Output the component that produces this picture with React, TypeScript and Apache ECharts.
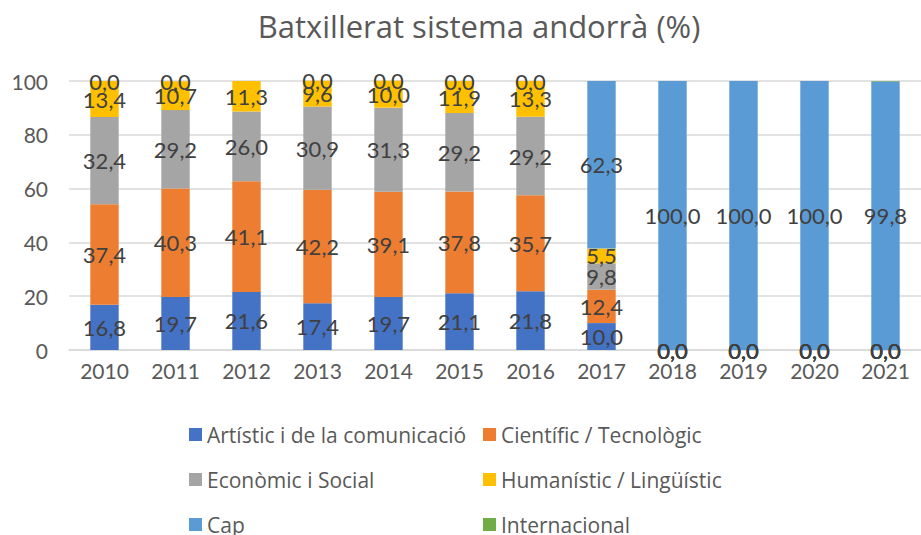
import React, { useEffect, useRef } from "react";
import * as echarts from "echarts";

const categories = ["2010", "2011", "2012", "2013", "2014", "2015", "2016", "2017", "2018", "2019", "2020", "2021"];
const artistic = [16.8, 19.7, 21.6, 17.4, 19.7, 21.1, 21.8, 10.0, 0.0, 0.0, 0.0, 0.0];
const cientific = [37.4, 40.3, 41.1, 42.2, 39.1, 37.8, 35.7, 12.4, 0.0, 0.0, 0.0, 0.0];
const economic = [32.4, 29.2, 26.0, 30.9, 31.3, 29.2, 29.2, 9.8, 0.0, 0.0, 0.0, 0.0];
const humanistic = [13.4, 10.7, 11.3, 9.6, 10.0, 11.9, 13.3, 5.5, 0.0, 0.0, 0.0, 0.0];
const cap = [0.0, 0.0, null, 0.0, 0.0, 0.0, 0.0, 62.3, 100.0, 100.0, 100.0, 99.8];
const internacional = [null, null, null, null, null, null, null, null, null, null, null, 0.2];
const yTicks = [0, 20, 40, 60, 80, 100];

const seriesNames = [
  "Artístic i de la comunicació",
  "Científic / Tecnològic",
  "Econòmic i Social",
  "Humanístic / Lingüístic",
  "Cap",
  "Internacional",
];
const colors = ["#4472C4", "#ED7D31", "#A5A5A5", "#FFC000", "#5B9BD5", "#70AD47"];

const FONT = "Lato, 'Open Sans', sans-serif";
const FONT2 = "'Open Sans', Lato, sans-serif";

export default function App() {
  const ref = useRef<HTMLDivElement>(null);
  useEffect(() => {
    if (!ref.current) return;
    const chart = echarts.init(ref.current, null, { renderer: "svg" });
    const datasets = [artistic, cientific, economic, humanistic, cap, internacional];
    const series = datasets.map((d, i) => ({
      name: seriesNames[i],
      type: "bar" as const,
      stack: "total",
      data: d,
      barWidth: "40%",
      clip: false,
      itemStyle: { color: colors[i] },
      label: {
        show: i !== 5,
        position: "inside" as const,
        color: "#404040",
        fontFamily: FONT,
        fontSize: 22,
        formatter: (p: any) => (p.value == null ? "" : Number(p.value).toFixed(1).replace(".", ",")),
      },
    }));
    const legendText = { color: "#595959", fontSize: 21, fontFamily: FONT2 };
    chart.setOption({
      animation: false,
      textStyle: { fontFamily: FONT },
      title: {
        text: "Batxillerat sistema andorrà (%)",
        left: 474,
        textAlign: "center",
        top: 5,
        textStyle: { fontFamily: FONT2, fontSize: 31, fontWeight: "normal", color: "#595959" },
      },
      grid: { left: 69, right: -3, top: 81, bottom: 185, containLabel: false },
      xAxis: {
        type: "category",
        data: categories,
        axisLine: { lineStyle: { color: "#D9D9D9", width: 1.5 } },
        axisTick: { show: false },
        axisLabel: { color: "#595959", fontSize: 21, fontFamily: FONT, margin: 10 },
      },
      yAxis: {
        type: "value",
        min: yTicks[0],
        max: yTicks[yTicks.length - 1],
        interval: 20,
        axisLine: { show: false },
        axisTick: { show: false },
        splitLine: { lineStyle: { color: "#D9D9D9", width: 1.5 } },
        axisLabel: { color: "#595959", fontSize: 21, fontFamily: FONT, margin: 21 },
      },
      legend: [
        {
          orient: "vertical",
          left: 189,
          top: 424,
          padding: 0,
          itemGap: 24,
          itemWidth: 13,
          itemHeight: 13,
          icon: "rect",
          data: [seriesNames[0], seriesNames[2], seriesNames[4]],
          textStyle: legendText,
        },
        {
          orient: "vertical",
          left: 483,
          top: 424,
          padding: 0,
          itemGap: 24,
          itemWidth: 13,
          itemHeight: 13,
          icon: "rect",
          data: [seriesNames[1], seriesNames[3], seriesNames[5]],
          textStyle: legendText,
        },
      ],
      series,
    });
    return () => chart.dispose();
  }, []);
  return (
    <div
      ref={ref}
      style={{ position: "absolute", left: 0, top: 0, width: 921, height: 535, background: "#fff" }}
    />
  );
}
